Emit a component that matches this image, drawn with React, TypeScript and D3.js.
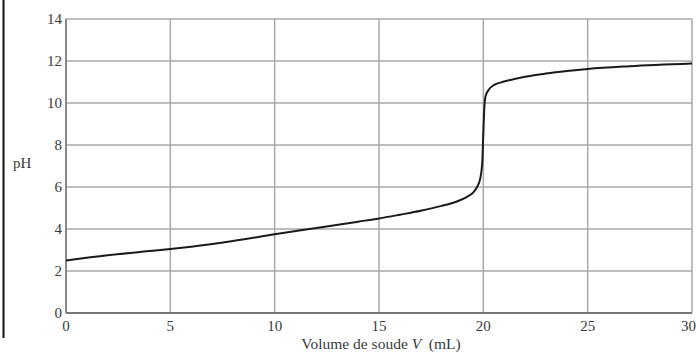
import React, { useEffect, useRef } from 'react';
import * as d3 from 'd3';

// titration curve
const volumes = [0, 2, 4, 5, 6, 8, 10, 12, 14, 15, 16, 17, 18, 18.7, 19.2, 19.5, 19.7, 19.85, 19.95, 20.0, 20.05, 20.1, 20.25, 20.5, 21, 22, 23, 24, 25, 27, 30];
const phValues = [2.5, 2.75, 2.95, 3.05, 3.16, 3.43, 3.75, 4.05, 4.35, 4.5, 4.68, 4.87, 5.1, 5.3, 5.52, 5.72, 6.0, 6.4, 7.2, 8.6, 9.8, 10.3, 10.62, 10.85, 11.02, 11.25, 11.4, 11.52, 11.62, 11.75, 11.88];

const xTicks = [0, 5, 10, 15, 20, 25, 30];
const yTicks = [0, 2, 4, 6, 8, 10, 12, 14];

const xTitle = 'Volume de soude ';
const yTitle = 'pH';

const Chart = () => {
  const svgRef = useRef<SVGSVGElement>(null);

  useEffect(() => {
    const W = 696;
    const H = 353;
    const margin = { top: 19, right: 4, bottom: 40, left: 66 };
    const width = 692 - margin.left;
    const height = 313 - margin.top;
    const font = '"Liberation Serif", "DejaVu Serif", serif';

    const root = d3.select(svgRef.current);
    root.selectAll('*').remove();
    root.attr('width', W).attr('height', H);

    root.append('rect').attr('width', W).attr('height', H).attr('fill', '#fff');

    // black rule on the far left
    root.append('line')
      .attr('x1', 3.5).attr('x2', 3.5)
      .attr('y1', 0).attr('y2', 338)
      .attr('stroke', '#111')
      .attr('stroke-width', 2);

    const svg = root.append('g')
      .attr('transform', `translate(${margin.left},${margin.top})`);

    const x = d3.scaleLinear().domain([0, 30]).range([0, width]);
    const y = d3.scaleLinear().domain([0, 14]).range([height, 0]);

    // grid
    svg.append('g')
      .selectAll('line')
      .data(xTicks)
      .enter()
      .append('line')
      .attr('x1', d => x(d)).attr('x2', d => x(d))
      .attr('y1', 0).attr('y2', height)
      .attr('stroke', '#a8a8a8')
      .attr('stroke-width', 1.5);

    svg.append('g')
      .selectAll('line')
      .data(yTicks)
      .enter()
      .append('line')
      .attr('x1', 0).attr('x2', width)
      .attr('y1', d => y(d)).attr('y2', d => y(d))
      .attr('stroke', '#a8a8a8')
      .attr('stroke-width', 1.5);

    // axis lines
    svg.append('line')
      .attr('x1', 0).attr('x2', width)
      .attr('y1', height).attr('y2', height)
      .attr('stroke', '#777')
      .attr('stroke-width', 2);
    svg.append('line')
      .attr('x1', 0).attr('x2', 0)
      .attr('y1', 0).attr('y2', height)
      .attr('stroke', '#888')
      .attr('stroke-width', 2);

    // tick labels
    svg.append('g')
      .selectAll('text')
      .data(xTicks)
      .enter()
      .append('text')
      .attr('x', d => x(d))
      .attr('y', height + 18)
      .attr('text-anchor', d => (d === 30 ? 'end' : 'middle'))
      .attr('dx', d => (d === 30 ? 4 : 0))
      .attr('font-family', font)
      .attr('font-size', 15)
      .attr('fill', '#3a3a3a')
      .text(d => d);

    svg.append('g')
      .selectAll('text')
      .data(yTicks)
      .enter()
      .append('text')
      .attr('x', -4)
      .attr('y', d => y(d) + 5)
      .attr('text-anchor', 'end')
      .attr('font-family', font)
      .attr('font-size', 15)
      .attr('fill', '#3a3a3a')
      .text(d => d);

    // titles
    root.append('text')
      .attr('x', 13)
      .attr('y', 168)
      .attr('font-family', font)
      .attr('font-size', 15)
      .attr('fill', '#3a3a3a')
      .text(yTitle);

    const t = root.append('text')
      .attr('x', 381)
      .attr('y', 349)
      .attr('text-anchor', 'middle')
      .attr('font-family', font)
      .attr('font-size', 15.5)
      .attr('fill', '#3a3a3a');
    t.append('tspan').text(xTitle);
    t.append('tspan').attr('font-style', 'italic').text('V');
    t.append('tspan').text('\u00a0 (mL)');

    // curve
    const data = volumes.map((v, i) => ({ v, ph: phValues[i] }));
    const line = d3.line<{ v: number; ph: number }>()
      .x(d => x(d.v))
      .y(d => y(d.ph))
      .curve(d3.curveMonotoneX);

    svg.append('path')
      .datum(data)
      .attr('d', line)
      .attr('fill', 'none')
      .attr('stroke', '#1a1a1a')
      .attr('stroke-width', 2);
  }, []);

  return <svg ref={svgRef} style={{ position: 'absolute', left: 0, top: 0 }}></svg>;
};

export default function App() {
  return <Chart />;
}
